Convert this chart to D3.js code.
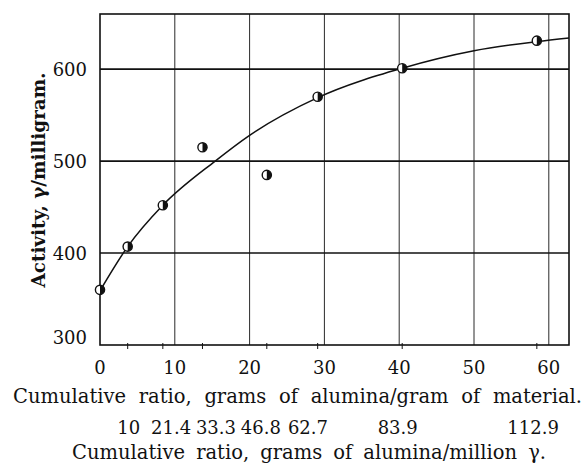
<!DOCTYPE html>
<html>
<head>
<meta charset="utf-8">
<script src="https://cdn.jsdelivr.net/npm/d3@7/dist/d3.min.js"></script>
<style>
  html, body { margin: 0; padding: 0; background: #fff; }
  svg { display: block; }
  text { font-family: "DejaVu Serif", "Liberation Serif", serif; fill: #111; }
</style>
</head>
<body>
<svg id="chart" width="588" height="463"></svg>
<script>
// Measured activity after each alumina treatment
const ratioPerGram = [0, 3.7, 8.4, 13.7, 22.3, 29.1, 40.4, 58.4];
const activity = [360, 407, 452, 515, 485, 570, 601, 631];

// Smoothed trend curve drawn through the measurements
const curveRatio = [0, 3.7, 8.4, 15.4, 20, 29.1, 40.4, 50, 58.4, 62.7];
const curveActivity = [359, 407, 452, 500, 528, 569, 601, 620, 630, 634];

// Axis ticks
const xTicks = [0, 10, 20, 30, 40, 50, 60];
const yTicks = [300, 400, 500, 600];

// Second scale: grams of alumina per million γ, written under the primary axis
const perMillionLabels = ["10", "21.4", "33.3", "46.8", "62.7", "83.9", "112.9"];
const perMillionAt = [3.85, 9.5, 15.5, 21.5, 27.8, 39.8, 57.9];

const xTitle = "Cumulative ratio, grams of alumina/gram of material.";
const x2Title = "Cumulative ratio, grams of alumina/million γ.";
const yTitle = "Activity, γ/milligram.";

const svg = d3.select("#chart");
const frame = { left: 100, right: 569, top: 14, bottom: 345 };

const x = d3.scaleLinear().domain([0, 62.7]).range([frame.left, frame.right]);
const y = d3.scaleLinear().domain([300, 660]).range([frame.bottom, frame.top]);

// Grid
const grid = svg.append("g");
grid.selectAll("line.v").data(xTicks.filter(d => d > 0)).join("line")
  .attr("x1", d => x(d)).attr("x2", d => x(d))
  .attr("y1", frame.top).attr("y2", frame.bottom)
  .attr("stroke", "#2a2a2a").attr("stroke-width", 1);
grid.selectAll("line.h").data(yTicks.filter(d => d > 300)).join("line")
  .attr("x1", frame.left).attr("x2", frame.right)
  .attr("y1", d => y(d)).attr("y2", d => y(d))
  .attr("stroke", "#111").attr("stroke-width", 1.6);

// Frame
svg.append("rect")
  .attr("x", frame.left).attr("y", frame.top)
  .attr("width", frame.right - frame.left).attr("height", frame.bottom - frame.top)
  .attr("fill", "none").attr("stroke", "#111").attr("stroke-width", 1.6);

// Small ticks on the bottom edge at each measured ratio
svg.append("g").selectAll("line").data(ratioPerGram.filter(d => d > 0)).join("line")
  .attr("x1", d => x(d)).attr("x2", d => x(d))
  .attr("y1", frame.bottom - 2).attr("y2", frame.bottom + 4)
  .attr("stroke", "#111").attr("stroke-width", 1);

// Trend curve
const curveData = curveRatio.map((r, i) => [r, curveActivity[i]]);
svg.append("path")
  .datum(curveData)
  .attr("d", d3.line().x(d => x(d[0])).y(d => y(d[1])).curve(d3.curveMonotoneX))
  .attr("fill", "none").attr("stroke", "#111").attr("stroke-width", 1.5);

// Half-filled circle markers
const r = 4.6;
const pts = svg.append("g").selectAll("g").data(ratioPerGram.map((d, i) => [d, activity[i]])).join("g")
  .attr("transform", d => `translate(${x(d[0])},${y(d[1])})`);
pts.append("circle").attr("r", r).attr("fill", "#fff").attr("stroke", "#111").attr("stroke-width", 1.4);
pts.append("path")
  .attr("d", `M0,${-r} A${r},${r} 0 0 1 0,${r} Z`)
  .attr("fill", "#111");

// Y tick labels
svg.append("g").selectAll("text").data(yTicks).join("text")
  .attr("x", 87).attr("y", d => y(d) + (d === 300 ? -7 : 0))
  .attr("dy", "0.36em")
  .attr("text-anchor", "end").attr("font-size", 18)
  .text(d => d);

// X tick labels
svg.append("g").selectAll("text").data(xTicks).join("text")
  .attr("x", d => x(d)).attr("y", 374)
  .attr("text-anchor", "middle").attr("font-size", 18)
  .text(d => d);

// Per-million labels
svg.append("g").selectAll("text").data(perMillionLabels).join("text")
  .attr("x", (d, i) => x(perMillionAt[i])).attr("y", 434)
  .attr("text-anchor", "middle").attr("font-size", 18)
  .text(d => d);

// Axis titles, word-spaced to span their lines
function spreadTitle(text, left, right, baseline, size) {
  const t = svg.append("text").attr("x", left).attr("y", baseline)
    .attr("font-size", size).text(text);
  const natural = t.node().getComputedTextLength();
  const gaps = (text.match(/ /g) || []).length;
  if (gaps > 0) t.attr("word-spacing", ((right - left) - natural) / gaps);
  return t;
}
spreadTitle(xTitle, 13, 582, 403, 19.5);
spreadTitle(x2Title, 72, 546, 459, 19.5);

svg.append("text")
  .attr("transform", "translate(45,180) rotate(-90)")
  .attr("text-anchor", "middle")
  .attr("font-size", 18).attr("font-weight", "bold")
  .attr("textLength", 215).attr("lengthAdjust", "spacingAndGlyphs")
  .text(yTitle);
</script>
</body>
</html>
